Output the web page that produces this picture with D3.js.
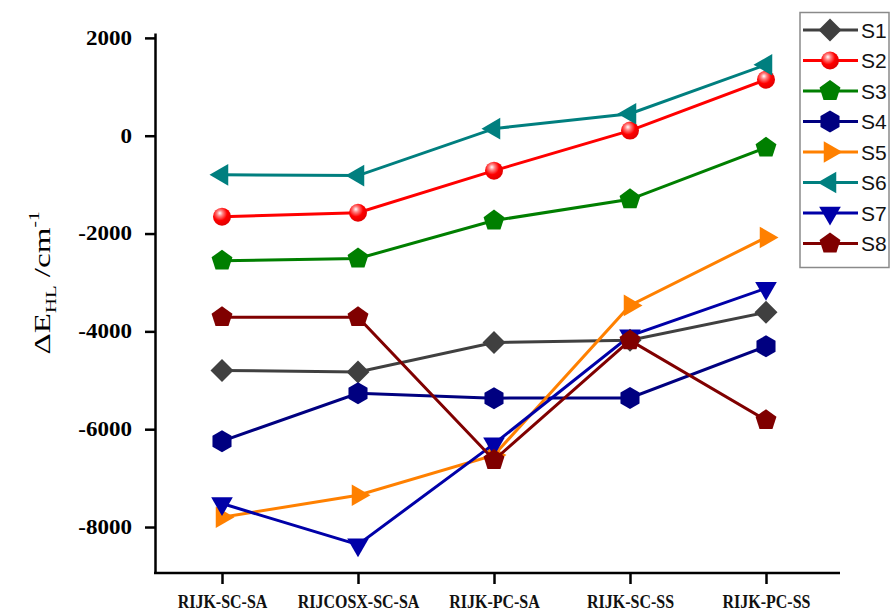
<!DOCTYPE html>
<html>
<head>
<meta charset="utf-8">
<script src="https://cdn.jsdelivr.net/npm/d3@7/dist/d3.min.js"></script>
<style>
  html, body { margin: 0; padding: 0; background: #fff; }
  svg { display: block; }
</style>
</head>
<body>
<svg id="chart" width="891" height="612"></svg>
<script>
// Methods along the x axis
const methods = ["RIJK-SC-SA", "RIJCOSX-SC-SA", "RIJK-PC-SA", "RIJK-SC-SS", "RIJK-PC-SS"];

// ΔE_HL values (cm^-1) per system
const s1 = [-4800, -4830, -4230, -4180, -3610];
const s2 = [-1655, -1575, -715, 105, 1145];
const s3 = [-2555, -2510, -1735, -1300, -245];
const s4 = [-6245, -5265, -5365, -5360, -4305];
const s5 = [-7800, -7350, -6530, -3470, -2080];
const s6 = [-800, -815, 145, 450, 1450];
const s7 = [-7520, -8360, -6300, -4090, -3120];
const s8 = [-3710, -3710, -6630, -4185, -5815];

const yTicks = [-8000, -6000, -4000, -2000, 0, 2000];

const seriesNames = ["S1", "S2", "S3", "S4", "S5", "S6", "S7", "S8"];
const seriesValues = [s1, s2, s3, s4, s5, s6, s7, s8];
const seriesColors = ["#404040", "#ff0000", "#007f00", "#000080", "#ff8000", "#007f7f", "#0000a8", "#800000"];
const seriesSymbols = ["diamond", "sphere", "pentagon", "hexagon", "triRight", "triLeft", "triDown", "pentagon"];

const serif = "'Liberation Serif', 'Times New Roman', Times, serif";
const svg = d3.select("#chart");

const x = d3.scalePoint().domain(methods).range([222, 766]);
const y = d3.scaleLinear().domain([-8940, 2100]).range([573, 33]);

// gradient for the shaded sphere marker
const defs = svg.append("defs");
const grad = defs.append("radialGradient").attr("id", "sphere")
  .attr("cx", "0.4").attr("cy", "0.35").attr("r", "0.65").attr("fx", "0.38").attr("fy", "0.3");
grad.append("stop").attr("offset", "0").attr("stop-color", "#ffffff");
grad.append("stop").attr("offset", "0.25").attr("stop-color", "#ff8080");
grad.append("stop").attr("offset", "0.6").attr("stop-color", "#ff0000");
grad.append("stop").attr("offset", "1").attr("stop-color", "#e00000");

function polygon(n, r, rot) {
  const pts = [];
  for (let i = 0; i < n; i++) {
    const a = rot + i * 2 * Math.PI / n;
    pts.push([r * Math.cos(a), r * Math.sin(a)]);
  }
  return "M" + pts.map(p => p[0].toFixed(2) + "," + p[1].toFixed(2)).join("L") + "Z";
}

function drawSymbol(g, type, color, cx, cy) {
  if (type === "sphere") {
    g.append("circle").attr("cx", cx).attr("cy", cy).attr("r", 9)
      .attr("fill", "url(#sphere)");
    return;
  }
  let d;
  switch (type) {
    case "diamond": d = polygon(4, 11.5, -Math.PI / 2); break;
    case "pentagon": d = polygon(5, 11, -Math.PI / 2); break;
    case "hexagon": d = polygon(6, 11, -Math.PI / 2); break;
    case "triRight": d = polygon(3, 12.5, 0); break;
    case "triLeft": d = polygon(3, 12.5, Math.PI); break;
    case "triDown": d = polygon(3, 12.5, Math.PI / 2); break;
  }
  g.append("path").attr("d", d).attr("transform", `translate(${cx},${cy})`)
    .attr("fill", color);
}

// axes
const yAxis = d3.axisLeft(y).tickValues(yTicks).tickSize(10).tickSizeOuter(0)
  .tickFormat(d => String(d));
const gy = svg.append("g").attr("transform", "translate(155,0)").call(yAxis);
gy.attr("font-family", serif);
gy.select(".domain").attr("stroke", "#000").attr("stroke-width", 2.5);
gy.selectAll(".tick line").attr("stroke", "#000").attr("stroke-width", 2.5);
gy.selectAll(".tick text")
  .attr("x", -23 / 1.15)
  .attr("transform", "scale(1.15,1)")
  .style("font-family", serif)
  .attr("font-weight", "bold")
  .attr("font-size", 20)
  .attr("fill", "#000");

const xAxis = d3.axisBottom(x).tickSize(11).tickSizeOuter(0);
const gx = svg.append("g").attr("transform", "translate(0,573)").call(xAxis);
gx.attr("font-family", serif);
gx.select(".domain").remove();
gx.append("line").attr("x1", 154).attr("x2", 840).attr("y1", 0).attr("y2", 0)
  .attr("stroke", "#000").attr("stroke-width", 2.5);
gx.selectAll(".tick line").attr("stroke", "#000").attr("stroke-width", 2.5);
gx.selectAll(".tick text")
  .attr("y", 21)
  .attr("transform", "scale(0.82,1)")
  .style("font-family", serif)
  .attr("font-weight", "bold")
  .attr("font-size", 19.5)
  .attr("fill", "#111");

// y axis title
const title = svg.append("text")
  .attr("transform", "translate(50,283) rotate(-90) scale(1.38,1)")
  .attr("text-anchor", "middle")
  .style("font-family", serif)
  .attr("font-size", 24)
  .attr("fill", "#000");
title.append("tspan").text("ΔE");
title.append("tspan").attr("font-size", 15).attr("dy", 6).text("HL");
title.append("tspan").attr("dy", -6).text("\u00a0/cm");
title.append("tspan").attr("font-size", 14).attr("dy", -11).text("-1");

// series lines + markers
const line = d3.line().x((d, i) => x(methods[i])).y(d => y(d));
seriesValues.forEach((vals, k) => {
  const g = svg.append("g");
  g.append("path").datum(vals).attr("d", line)
    .attr("fill", "none").attr("stroke", seriesColors[k]).attr("stroke-width", 3);
  vals.forEach((v, i) => drawSymbol(g, seriesSymbols[k], seriesColors[k], x(methods[i]), y(v)));
});

// legend
const lg = svg.append("g");
lg.append("rect").attr("x", 800).attr("y", 12.5).attr("width", 89).attr("height", 255)
  .attr("fill", "#fff").attr("stroke", "#8a8a8a").attr("stroke-width", 1.5);
seriesNames.forEach((name, k) => {
  const cy = 30 + k * 30.5;
  lg.append("line").attr("x1", 803).attr("x2", 858).attr("y1", cy).attr("y2", cy)
    .attr("stroke", seriesColors[k]).attr("stroke-width", 3);
  drawSymbol(lg, seriesSymbols[k], seriesColors[k], 830, cy);
  lg.append("text").attr("x", 861).attr("y", cy + 7.5)
    .style("font-family", "'Liberation Sans', Arial, sans-serif")
    .attr("font-size", 21).attr("fill", "#111").text(name);
});
</script>
</body>
</html>
